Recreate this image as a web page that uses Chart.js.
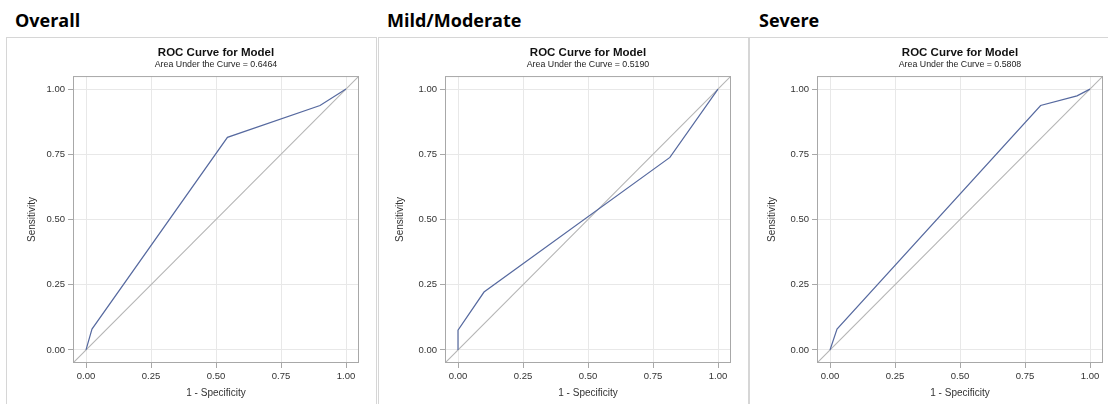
<!DOCTYPE html>
<html lang="en">
<head>
<meta charset="UTF-8">
<title>ROC Curves</title>
<script src="https://cdn.jsdelivr.net/npm/chart.js"></script>
<style>
body {
    margin: 0;
    width: 1108px;
    height: 404px;
    overflow: hidden;
    position: relative;
    background: #fff;
}
/* Section headings above each plot */
.heading {
    position: absolute;
    top: 11px;
    font-family: 'Open Sans', sans-serif;
    font-weight: 700;
    font-size: 18px;
    line-height: 18px;
    color: #000;
}
/* Light frame round each plot panel */
.panel {
    position: absolute;
    top: 37px;
    height: 400px;
    box-sizing: border-box;
    border: 1px solid #d6d6d6;
}
canvas {
    position: absolute;
    top: 38px;
}
</style>
</head>
<body>
<div class="heading" style="left:15px">Overall</div>
<div class="heading" style="left:387px">Mild/Moderate</div>
<div class="heading" style="left:759px">Severe</div>

<div class="panel" style="left:6px;width:371px"></div>
<div class="panel" style="left:378px;width:371px"></div>
<div class="panel" style="left:749px;width:370px"></div>

<canvas id="rocOverall" width="369" height="366" style="left:7px"></canvas>
<canvas id="rocMild" width="369" height="366" style="left:379px"></canvas>
<canvas id="rocSevere" width="358" height="366" style="left:750px"></canvas>

<script>
// axis ticks shared by both axes of every plot
var tickValues = [0, 0.25, 0.5, 0.75, 1];
var axisMin = -0.05;
var axisMax = 1.05;

// chance line (corner to corner)
var refX = [-0.05, 1.05];
var refY = [-0.05, 1.05];

// ROC points: 1 - specificity vs sensitivity
var overallFpr = [0, 0.023, 0.544, 0.90, 1];
var overallTpr = [0, 0.08, 0.815, 0.937, 1];

var mildFpr = [0, 0, 0.10, 0.815, 1];
var mildTpr = [0, 0.076, 0.222, 0.738, 1];

var severeFpr = [0, 0.027, 0.81, 0.95, 1];
var severeTpr = [0, 0.08, 0.937, 0.974, 1];

var aucValues = ['0.6464', '0.5190', '0.5808'];

var fontFamily = "'Liberation Sans', Arial, sans-serif";

function toPoints(xs, ys) {
    return xs.map(function (x, i) { return { x: x, y: ys[i] }; });
}

// SAS-style box round the whole plot area
var plotFrame = {
    id: 'plotFrame',
    afterDatasetsDraw: function (chart) {
        var a = chart.chartArea;
        var ctx = chart.ctx;
        ctx.save();
        ctx.strokeStyle = '#a8a8a8';
        ctx.lineWidth = 1;
        ctx.strokeRect(a.left + 0.5, a.top + 0.5, a.right - a.left - 1, a.bottom - a.top - 1);
        ctx.restore();
    }
};

function setTicks(scale) {
    scale.ticks = tickValues.map(function (v) { return { value: v }; });
}

function drawRoc(id, fpr, tpr, auc, axisWidth, rightPad, yTitlePad) {
    new Chart(document.getElementById(id), {
        type: 'scatter',
        data: {
            datasets: [{
                data: toPoints(fpr, tpr),
                showLine: true,
                borderColor: '#56699f',
                borderWidth: 1.2,
                pointRadius: 0,
                tension: 0
            }, {
                data: toPoints(refX, refY),
                showLine: true,
                borderColor: '#b4b4b4',
                borderWidth: 1.1,
                pointRadius: 0
            }]
        },
        options: {
            responsive: false,
            animation: false,
            events: [],
            layout: { padding: { left: 0, right: rightPad, top: 0, bottom: 0 } },
            plugins: {
                legend: { display: false },
                tooltip: { enabled: false },
                title: {
                    display: true,
                    text: 'ROC Curve for Model',
                    fullSize: false,
                    color: '#111',
                    font: { family: fontFamily, size: 11.5, weight: 'bold', lineHeight: 1 },
                    padding: { top: 9, bottom: 0 }
                },
                subtitle: {
                    display: true,
                    text: 'Area Under the Curve = ' + auc,
                    fullSize: false,
                    color: '#222',
                    font: { family: fontFamily, size: 8.8, lineHeight: 1.2 },
                    padding: { top: 1, bottom: 6 }
                }
            },
            scales: {
                x: {
                    type: 'linear',
                    min: axisMin,
                    max: axisMax,
                    afterBuildTicks: setTicks,
                    afterFit: function (s) { s.height = 41; },
                    ticks: {
                        color: '#333',
                        padding: 3,
                        font: { family: fontFamily, size: 9.5 },
                        callback: function (v) { return v.toFixed(2); }
                    },
                    grid: { color: '#e8e8e8', tickColor: '#a8a8a8', tickLength: 5 },
                    border: { display: false },
                    title: {
                        display: true,
                        text: '1 - Specificity',
                        color: '#333',
                        font: { family: fontFamily, size: 10 },
                        padding: { top: 0, bottom: 5 }
                    }
                },
                y: {
                    type: 'linear',
                    min: axisMin,
                    max: axisMax,
                    afterBuildTicks: setTicks,
                    afterFit: function (s) { s.width = axisWidth; },
                    ticks: {
                        color: '#333',
                        padding: 3,
                        font: { family: fontFamily, size: 9.5 },
                        callback: function (v) { return v.toFixed(2); }
                    },
                    grid: { color: '#e8e8e8', tickColor: '#a8a8a8', tickLength: 5 },
                    border: { display: false },
                    title: {
                        display: true,
                        text: 'Sensitivity',
                        color: '#333',
                        font: { family: fontFamily, size: 10 },
                        padding: { top: yTitlePad, bottom: 0 }
                    }
                }
            }
        },
        plugins: [plotFrame]
    });
}

drawRoc('rocOverall', overallFpr, overallTpr, aucValues[0], 66, 17, 19);
drawRoc('rocMild', mildFpr, mildTpr, aucValues[1], 66, 17, 15);
drawRoc('rocSevere', severeFpr, severeTpr, aucValues[2], 67, 5, 16);
</script>
</body>
</html>
